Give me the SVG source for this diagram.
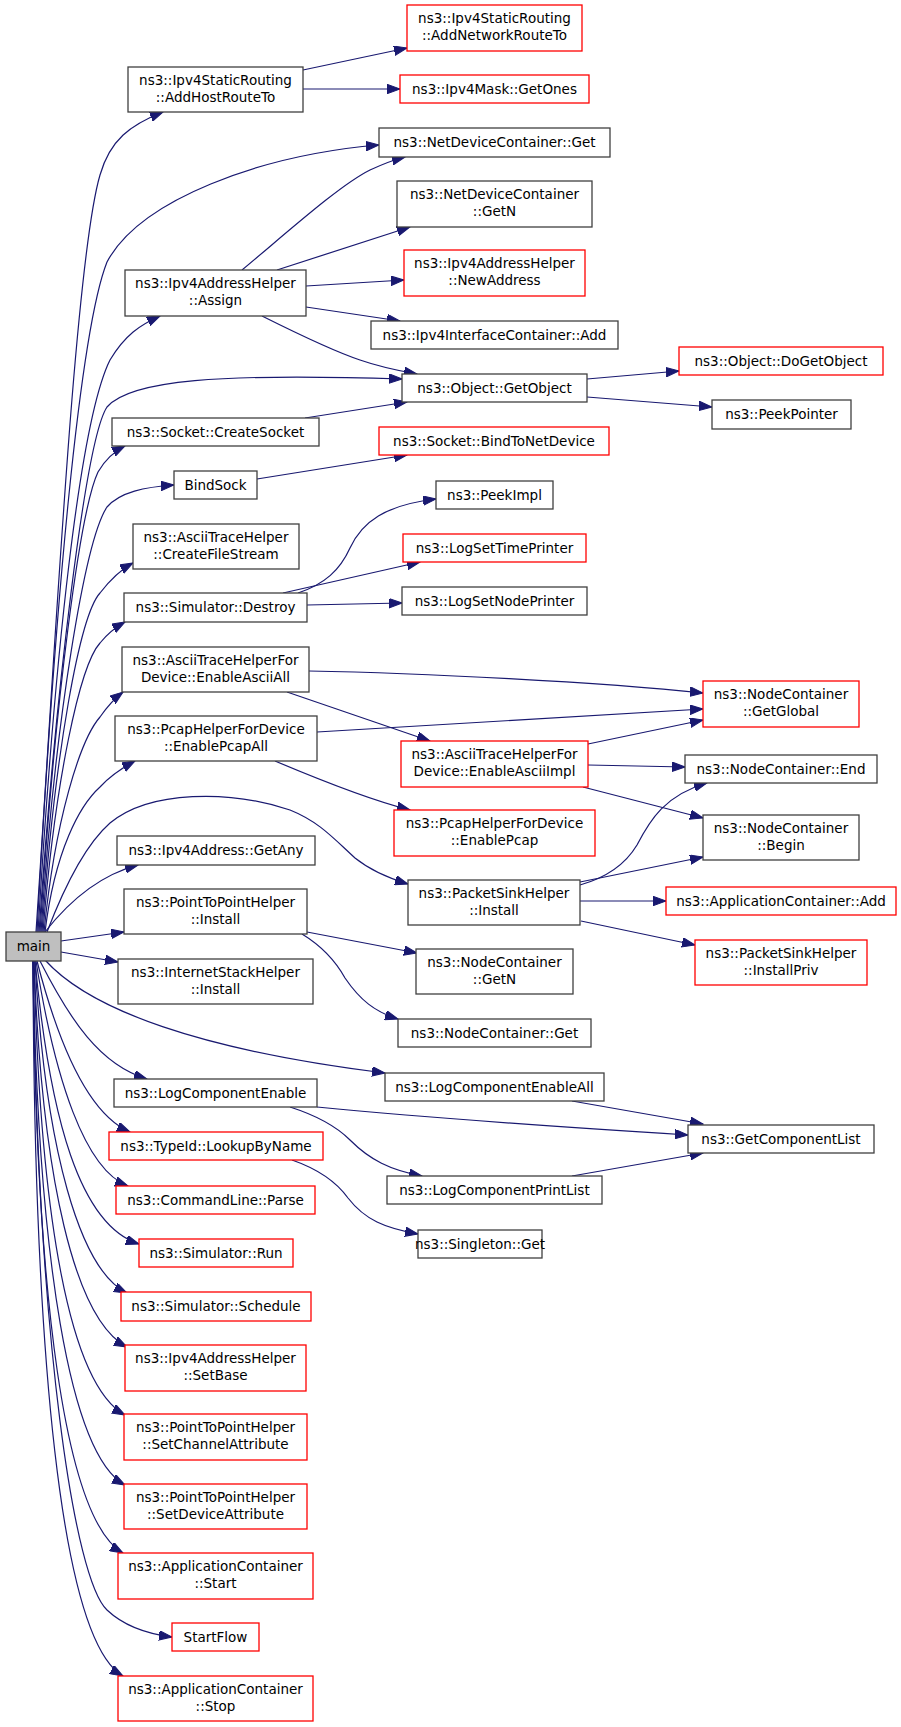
<svg xmlns="http://www.w3.org/2000/svg" width="901" height="1727" viewBox="0 0 901 1727">
<style>
.n rect{fill:#ffffff;stroke:#404040;stroke-width:1.3}
.r rect{fill:#ffffff;stroke:#ff0000;stroke-width:1.3}
.m rect{fill:#bfbfbf;stroke:#404040;stroke-width:1.3}
text{font-family:"DejaVu Sans","Liberation Sans",sans-serif;font-size:13.5px;fill:#000000;text-anchor:middle}
#edges path{fill:none;stroke:#191970;stroke-width:1.2;marker-end:url(#ah)}
</style>
<defs>
<marker id="ah" markerUnits="userSpaceOnUse" markerWidth="14" markerHeight="10" refX="13" refY="4.75" orient="auto"><path d="M0,0 L13,4.75 L0,9.5 z" fill="#191970" stroke="#191970" stroke-width="1"/></marker>
</defs>
<rect width="901" height="1727" fill="#ffffff"/>
<g id="edges">
<path d="M36,932 C55,650 75,260 100,175 C110,140 130,125 163,112"/>
<path d="M37,932 C55,600 80,330 107,262 C140,200 260,155 379,145"/>
<path d="M38,932 C55,650 80,420 110,360 C125,335 140,325 160,316"/>
<path d="M39,932 C55,700 85,440 107,407 C130,380 220,373 402,379"/>
<path d="M40,932 C55,700 80,510 98,472 C106,458 115,451 125,446"/>
<path d="M41,932 C55,720 85,540 107,507 C120,492 145,487 174,485"/>
<path d="M42,932 C55,750 80,615 100,593 C110,580 120,570 133,563"/>
<path d="M43,932 C55,780 80,665 100,643 C108,633 116,627 125,622"/>
<path d="M44,932 C55,820 80,740 100,717 C107,707 115,698 123,692"/>
<path d="M45,932 C55,850 80,805 100,787 C110,776 122,768 135,761"/>
<path d="M47,932 C65,885 85,845 110,823 C150,790 230,790 290,810 C320,822 335,840 355,858 C370,870 388,878 408,884"/>
<path d="M45,932 C70,900 100,875 138,865"/>
<path d="M61,941 L124,932"/>
<path d="M61,952 L118,962"/>
<path d="M45,960 C90,1010 200,1050 385,1073"/>
<path d="M40,961 C70,1020 100,1065 147,1079"/>
<path d="M37,961 C60,1050 90,1115 130,1132"/>
<path d="M36,961 C55,1080 85,1170 128,1186"/>
<path d="M35,961 C50,1120 80,1225 139,1244"/>
<path d="M35,961 C45,1150 80,1270 127,1293"/>
<path d="M34,961 C42,1180 75,1320 127,1347"/>
<path d="M34,961 C40,1220 70,1385 125,1415"/>
<path d="M33,961 C38,1260 70,1455 125,1485"/>
<path d="M33,961 C36,1300 65,1520 123,1553"/>
<path d="M33,961 C38,1350 75,1580 107,1610 C125,1627 148,1634 172,1637"/>
<path d="M33,961 C34,1350 60,1640 123,1676"/>
<path d="M303,70 L407,48"/>
<path d="M303,89 L400,89"/>
<path d="M242,270 C290,230 340,185 370,170 C383,164 393,160 405,157"/>
<path d="M277,270 L410,227"/>
<path d="M306,286 L404,280"/>
<path d="M306,307 L400,321"/>
<path d="M262,316 C290,330 330,350 360,360 C380,367 400,371 417,374"/>
<path d="M305,418 L407,402"/>
<path d="M257,479 L407,455"/>
<path d="M587,379 L679,371"/>
<path d="M587,397 L712,407"/>
<path d="M298,593 C325,584 340,570 350,548 C362,522 385,505 436,499"/>
<path d="M283,593 L420,562"/>
<path d="M307,605 L402,603"/>
<path d="M309,671 C420,673 600,682 703,693"/>
<path d="M287,692 L430,741"/>
<path d="M317,732 L703,709"/>
<path d="M275,761 C320,780 370,800 410,810"/>
<path d="M588,744 L703,720"/>
<path d="M588,765 L685,767"/>
<path d="M583,787 L703,818"/>
<path d="M580,885 C605,878 625,865 637,845 C650,820 665,795 707,783"/>
<path d="M580,882 L703,857"/>
<path d="M580,901 L666,901"/>
<path d="M581,921 L695,945"/>
<path d="M307,932 L417,953"/>
<path d="M302,934 C320,945 335,960 345,978 C360,1000 375,1012 398,1019"/>
<path d="M572,1101 L703,1124"/>
<path d="M317,1107 C420,1117 560,1127 688,1135"/>
<path d="M290,1107 C315,1115 335,1125 350,1140 C370,1160 390,1170 422,1176"/>
<path d="M572,1176 L703,1153"/>
<path d="M292,1160 C315,1168 335,1180 348,1198 C365,1220 385,1228 418,1234"/>
</g>
<g id="main" class="m"><rect x="6" y="932" width="55" height="29"/><text x="33.5" y="951">main</text></g>
<g id="addHostRouteTo" class="n"><rect x="128" y="67" width="175" height="45"/><text x="215.5" y="85">ns3::Ipv4StaticRouting</text><text x="215.5" y="102">::AddHostRouteTo</text></g>
<g id="addNetworkRouteTo" class="r"><rect x="407" y="5" width="175" height="46"/><text x="494.5" y="23">ns3::Ipv4StaticRouting</text><text x="494.5" y="40">::AddNetworkRouteTo</text></g>
<g id="getOnes" class="r"><rect x="400" y="75" width="189" height="28"/><text x="494.5" y="94">ns3::Ipv4Mask::GetOnes</text></g>
<g id="ndcGet" class="n"><rect x="379" y="128" width="231" height="29"/><text x="494.5" y="147">ns3::NetDeviceContainer::Get</text></g>
<g id="ndcGetN" class="n"><rect x="397" y="181" width="195" height="46"/><text x="494.5" y="199">ns3::NetDeviceContainer</text><text x="494.5" y="216">::GetN</text></g>
<g id="newAddress" class="r"><rect x="404" y="250" width="181" height="46"/><text x="494.5" y="268">ns3::Ipv4AddressHelper</text><text x="494.5" y="285">::NewAddress</text></g>
<g id="assign" class="n"><rect x="125" y="270" width="181" height="46"/><text x="215.5" y="288">ns3::Ipv4AddressHelper</text><text x="215.5" y="305">::Assign</text></g>
<g id="ifaceAdd" class="n"><rect x="371" y="321" width="247" height="28"/><text x="494.5" y="340">ns3::Ipv4InterfaceContainer::Add</text></g>
<g id="getObject" class="n"><rect x="402" y="374" width="185" height="28"/><text x="494.5" y="393">ns3::Object::GetObject</text></g>
<g id="doGetObject" class="r"><rect x="679" y="347" width="204" height="28"/><text x="781" y="366">ns3::Object::DoGetObject</text></g>
<g id="peekPointer" class="n"><rect x="712" y="400" width="139" height="29"/><text x="781.5" y="419">ns3::PeekPointer</text></g>
<g id="createSocket" class="n"><rect x="112" y="418" width="207" height="28"/><text x="215.5" y="437">ns3::Socket::CreateSocket</text></g>
<g id="bindToNetDevice" class="r"><rect x="379" y="427" width="230" height="28"/><text x="494" y="446">ns3::Socket::BindToNetDevice</text></g>
<g id="bindSock" class="n"><rect x="174" y="471" width="83" height="28"/><text x="215.5" y="490">BindSock</text></g>
<g id="peekImpl" class="n"><rect x="436" y="481" width="117" height="28"/><text x="494.5" y="500">ns3::PeekImpl</text></g>
<g id="createFileStream" class="n"><rect x="133" y="524" width="166" height="45"/><text x="216" y="542">ns3::AsciiTraceHelper</text><text x="216" y="559">::CreateFileStream</text></g>
<g id="logSetTimePrinter" class="r"><rect x="403" y="534" width="183" height="28"/><text x="494.5" y="553">ns3::LogSetTimePrinter</text></g>
<g id="destroy" class="n"><rect x="124" y="593" width="183" height="29"/><text x="215.5" y="612">ns3::Simulator::Destroy</text></g>
<g id="logSetNodePrinter" class="n"><rect x="402" y="587" width="185" height="28"/><text x="494.5" y="606">ns3::LogSetNodePrinter</text></g>
<g id="enableAsciiAll" class="n"><rect x="122" y="647" width="187" height="45"/><text x="215.5" y="665">ns3::AsciiTraceHelperFor</text><text x="215.5" y="682">Device::EnableAsciiAll</text></g>
<g id="getGlobal" class="r"><rect x="703" y="681" width="156" height="46"/><text x="781" y="699">ns3::NodeContainer</text><text x="781" y="716">::GetGlobal</text></g>
<g id="enablePcapAll" class="n"><rect x="115" y="716" width="202" height="45"/><text x="216" y="734">ns3::PcapHelperForDevice</text><text x="216" y="751">::EnablePcapAll</text></g>
<g id="enableAsciiImpl" class="r"><rect x="401" y="741" width="187" height="46"/><text x="494.5" y="759">ns3::AsciiTraceHelperFor</text><text x="494.5" y="776">Device::EnableAsciiImpl</text></g>
<g id="ncEnd" class="n"><rect x="685" y="755" width="192" height="28"/><text x="781" y="774">ns3::NodeContainer::End</text></g>
<g id="enablePcap" class="r"><rect x="394" y="810" width="201" height="46"/><text x="494.5" y="828">ns3::PcapHelperForDevice</text><text x="494.5" y="845">::EnablePcap</text></g>
<g id="ncBegin" class="n"><rect x="703" y="815" width="156" height="45"/><text x="781" y="833">ns3::NodeContainer</text><text x="781" y="850">::Begin</text></g>
<g id="getAny" class="n"><rect x="117" y="836" width="198" height="29"/><text x="216" y="855">ns3::Ipv4Address::GetAny</text></g>
<g id="pshInstall" class="n"><rect x="408" y="880" width="172" height="45"/><text x="494" y="898">ns3::PacketSinkHelper</text><text x="494" y="915">::Install</text></g>
<g id="appAdd" class="r"><rect x="666" y="887" width="230" height="28"/><text x="781" y="906">ns3::ApplicationContainer::Add</text></g>
<g id="p2pInstall" class="n"><rect x="124" y="889" width="183" height="45"/><text x="215.5" y="907">ns3::PointToPointHelper</text><text x="215.5" y="924">::Install</text></g>
<g id="installPriv" class="r"><rect x="695" y="940" width="172" height="45"/><text x="781" y="958">ns3::PacketSinkHelper</text><text x="781" y="975">::InstallPriv</text></g>
<g id="ncGetN" class="n"><rect x="416" y="949" width="157" height="45"/><text x="494.5" y="967">ns3::NodeContainer</text><text x="494.5" y="984">::GetN</text></g>
<g id="internetStackInstall" class="n"><rect x="118" y="959" width="195" height="45"/><text x="215.5" y="977">ns3::InternetStackHelper</text><text x="215.5" y="994">::Install</text></g>
<g id="ncGet" class="n"><rect x="398" y="1019" width="193" height="28"/><text x="494.5" y="1038">ns3::NodeContainer::Get</text></g>
<g id="logComponentEnableAll" class="n"><rect x="385" y="1073" width="219" height="28"/><text x="494.5" y="1092">ns3::LogComponentEnableAll</text></g>
<g id="logComponentEnable" class="n"><rect x="114" y="1079" width="203" height="28"/><text x="215.5" y="1098">ns3::LogComponentEnable</text></g>
<g id="getComponentList" class="n"><rect x="688" y="1125" width="186" height="28"/><text x="781" y="1144">ns3::GetComponentList</text></g>
<g id="lookupByName" class="r"><rect x="109" y="1132" width="214" height="28"/><text x="216" y="1151">ns3::TypeId::LookupByName</text></g>
<g id="logComponentPrintList" class="n"><rect x="387" y="1176" width="215" height="28"/><text x="494.5" y="1195">ns3::LogComponentPrintList</text></g>
<g id="commandLineParse" class="r"><rect x="116" y="1186" width="199" height="28"/><text x="215.5" y="1205">ns3::CommandLine::Parse</text></g>
<g id="singletonGet" class="n"><rect x="418" y="1230" width="124" height="28"/><text x="480" y="1249">ns3::Singleton::Get</text></g>
<g id="simRun" class="r"><rect x="139" y="1239" width="154" height="28"/><text x="216" y="1258">ns3::Simulator::Run</text></g>
<g id="simSchedule" class="r"><rect x="121" y="1292" width="190" height="29"/><text x="216" y="1311">ns3::Simulator::Schedule</text></g>
<g id="setBase" class="r"><rect x="125" y="1345" width="181" height="46"/><text x="215.5" y="1363">ns3::Ipv4AddressHelper</text><text x="215.5" y="1380">::SetBase</text></g>
<g id="setChannelAttribute" class="r"><rect x="124" y="1414" width="183" height="46"/><text x="215.5" y="1432">ns3::PointToPointHelper</text><text x="215.5" y="1449">::SetChannelAttribute</text></g>
<g id="setDeviceAttribute" class="r"><rect x="124" y="1484" width="183" height="45"/><text x="215.5" y="1502">ns3::PointToPointHelper</text><text x="215.5" y="1519">::SetDeviceAttribute</text></g>
<g id="appStart" class="r"><rect x="118" y="1553" width="195" height="46"/><text x="215.5" y="1571">ns3::ApplicationContainer</text><text x="215.5" y="1588">::Start</text></g>
<g id="startFlow" class="r"><rect x="172" y="1623" width="87" height="28"/><text x="215.5" y="1642">StartFlow</text></g>
<g id="appStop" class="r"><rect x="118" y="1676" width="195" height="45"/><text x="215.5" y="1694">ns3::ApplicationContainer</text><text x="215.5" y="1711">::Stop</text></g>
</svg>
